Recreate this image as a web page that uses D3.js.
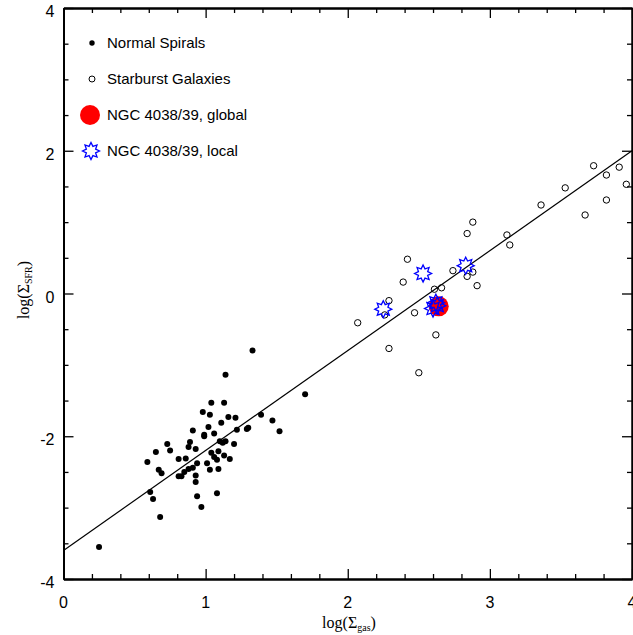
<!DOCTYPE html>
<html>
<head>
<meta charset="utf-8">
<script src="https://cdn.jsdelivr.net/npm/d3@7"></script>
<style>
body { margin: 0; background: #fff; }
svg { display: block; }
.tickLabel { font-family: "Liberation Sans", Arial, sans-serif; font-size: 16px; }
.legendText { font-family: "Liberation Sans", Arial, sans-serif; font-size: 15px; }
.axisTitle { font-family: "Liberation Serif", "Times New Roman", serif; font-size: 16px; }
</style>
</head>
<body>
<div id="chart"></div>
<script>
// data
var spiralX = [0.25, 1.33, 1.14, 1.70, 1.04, 1.13, 0.98, 1.03, 1.16, 1.21, 1.39, 1.47, 1.52, 1.11, 1.02,
  1.22, 1.29, 1.30, 0.91, 0.99, 0.99, 1.06, 0.89, 0.88, 0.93, 0.73, 0.75, 0.65, 0.59, 0.81,
  0.86, 0.94, 1.01, 0.91, 0.88, 0.85, 0.81, 0.83, 0.67, 0.69, 0.93, 0.93, 1.03, 1.09, 1.17,
  1.13, 1.08, 1.06, 1.04, 1.09, 1.20, 1.12, 1.10, 1.14, 0.61, 0.63, 0.94, 1.08, 0.68, 0.97];
var spiralY = [-3.55, -0.80, -1.14, -1.41, -1.53, -1.53, -1.66, -1.70, -1.73, -1.74, -1.70, -1.78, -1.93, -1.81, -1.87,
  -1.91, -1.90, -1.88, -1.92, -1.98, -2.00, -1.96, -2.08, -2.15, -2.18, -2.11, -2.20, -2.22, -2.36, -2.32,
  -2.31, -2.38, -2.38, -2.44, -2.46, -2.50, -2.56, -2.56, -2.47, -2.52, -2.55, -2.64, -2.47, -2.46, -2.32,
  -2.27, -2.33, -2.29, -2.23, -2.21, -2.11, -2.09, -2.07, -2.07, -2.78, -2.88, -2.84, -2.80, -3.13, -2.99];

var starburstX = [2.07, 2.29, 2.50, 2.29, 2.26, 2.39, 2.42, 2.47, 2.61, 2.66, 2.62, 2.74, 2.84, 2.88,
  2.91, 2.84, 2.88, 3.12, 3.14, 3.36, 3.53, 3.67, 3.73, 3.82, 3.82, 3.91, 3.96];
var starburstY = [-0.41, -0.77, -1.11, -0.10, -0.30, 0.16, 0.48, -0.27, 0.06, 0.08, -0.58, 0.32, 0.24, 0.30,
  0.11, 0.84, 1.00, 0.82, 0.68, 1.24, 1.48, 1.10, 1.79, 1.66, 1.31, 1.77, 1.53];

var globalX = [2.64];
var globalY = [-0.18];

var localX = [2.25, 2.53, 2.83, 2.62, 2.60, 2.63];
var localY = [-0.22, 0.28, 0.39, -0.13, -0.21, -0.17];

var fitX = [0, 4];
var fitY = [-3.6, 2.0];

var xMajor = [0, 1, 2, 3, 4];
var yMajor = [-4, -2, 0, 2, 4];

var legendLabels = ["Normal Spirals", "Starburst Galaxies", "NGC 4038/39, global", "NGC 4038/39, local"];

var width = 633, height = 635;
var padLeft = 63.5, padRight = 632, padTop = 8, padBottom = 579;

var svg = d3.select("#chart").append("svg")
  .attr("width", width)
  .attr("height", height);

var x = d3.scaleLinear().domain([0, 4]).range([padLeft, padRight]);
var y = d3.scaleLinear().domain([-4, 4]).range([padBottom, padTop]);

var xMinor = d3.range(0, 4.001, 0.2).filter(function(v) { return Math.abs(v - Math.round(v)) > 1e-6; });
var yMinor = d3.range(-4, 4.001, 0.5).filter(function(v) { return v % 2 !== 0; });

// star path, 8 points
function starPath(r1, r2) {
  var pts = [];
  for (var i = 0; i < 16; i++) {
    var a = Math.PI * i / 8 - Math.PI / 2;
    var r = i % 2 === 0 ? r1 : r2;
    pts.push([r * Math.cos(a), r * Math.sin(a)]);
  }
  return "M" + pts.join("L") + "Z";
}

// fit line
var line = d3.line().x(function(d) { return x(d[0]); }).y(function(d) { return y(d[1]); });
svg.append("path")
  .attr("d", line(d3.zip(fitX, fitY)))
  .attr("fill", "none")
  .attr("stroke", "#000")
  .attr("stroke-width", 1.2);

// normal spirals
svg.append("g").selectAll("circle")
  .data(d3.zip(spiralX, spiralY))
  .enter().append("circle")
  .attr("cx", function(d) { return x(d[0]); })
  .attr("cy", function(d) { return y(d[1]); })
  .attr("r", 3)
  .attr("fill", "#000");

// starbursts
svg.append("g").selectAll("circle")
  .data(d3.zip(starburstX, starburstY))
  .enter().append("circle")
  .attr("cx", function(d) { return x(d[0]); })
  .attr("cy", function(d) { return y(d[1]); })
  .attr("r", 3.2)
  .attr("fill", "none")
  .attr("stroke", "#000")
  .attr("stroke-width", 1);

// global
svg.append("g").selectAll("circle")
  .data(d3.zip(globalX, globalY))
  .enter().append("circle")
  .attr("cx", function(d) { return x(d[0]); })
  .attr("cy", function(d) { return y(d[1]); })
  .attr("r", 10)
  .attr("fill", "#ff0000");

// local
svg.append("g").selectAll("path")
  .data(d3.zip(localX, localY))
  .enter().append("path")
  .attr("transform", function(d) { return "translate(" + x(d[0]) + "," + y(d[1]) + ")"; })
  .attr("d", starPath(8.5, 5))
  .attr("fill", "none")
  .attr("stroke", "#0000ff")
  .attr("stroke-width", 1.3);

// axes: ticks point inward on all four sides
function tickAxis(axisFn, scale, values, size, transform) {
  var g = svg.append("g").attr("transform", transform)
    .call(axisFn(scale).tickValues(values).tickSize(size).tickSizeOuter(0).tickFormat(""));
  g.select(".domain").attr("stroke-width", 2);
  g.selectAll(".tick line").attr("stroke-width", 1.3);
  return g;
}
tickAxis(d3.axisTop, x, xMajor, 10, "translate(0," + padBottom + ")");
tickAxis(d3.axisTop, x, xMinor, 5, "translate(0," + padBottom + ")");
tickAxis(d3.axisBottom, x, xMajor, 10, "translate(0," + padTop + ")");
tickAxis(d3.axisBottom, x, xMinor, 5, "translate(0," + padTop + ")");
tickAxis(d3.axisRight, y, yMajor, 10, "translate(" + padLeft + ",0)");
tickAxis(d3.axisRight, y, yMinor, 5, "translate(" + padLeft + ",0)");
tickAxis(d3.axisLeft, y, yMajor, 10, "translate(" + padRight + ",0)");
tickAxis(d3.axisLeft, y, yMinor, 5, "translate(" + padRight + ",0)");

// tick labels
svg.append("g").selectAll("text")
  .data(xMajor)
  .enter().append("text")
  .attr("class", "tickLabel")
  .attr("x", function(d) { return x(d); })
  .attr("y", padBottom + 29)
  .attr("text-anchor", "middle")
  .text(function(d) { return d; });

svg.append("g").selectAll("text")
  .data(yMajor)
  .enter().append("text")
  .attr("class", "tickLabel")
  .attr("x", padLeft - 9)
  .attr("y", function(d) { return y(d) + 9; })
  .attr("text-anchor", "end")
  .text(function(d) { return d; });

// axis titles
var xt = svg.append("text")
  .attr("class", "axisTitle")
  .attr("x", 349)
  .attr("y", 628)
  .attr("text-anchor", "middle");
xt.append("tspan").text("log(\u03A3");
xt.append("tspan").attr("font-size", "10px").attr("dy", 3).text("gas");
xt.append("tspan").attr("dy", -3).text(")");

var yt = svg.append("text")
  .attr("class", "axisTitle")
  .attr("transform", "translate(29,290) rotate(-90)")
  .attr("text-anchor", "middle");
yt.append("tspan").text("log(\u03A3");
yt.append("tspan").attr("font-size", "10px").attr("dy", 3).text("SFR");
yt.append("tspan").attr("dy", -3).text(")");

// legend
var legendY = [43, 79, 115, 151];
var leg = svg.append("g");
leg.append("circle").attr("cx", 92).attr("cy", legendY[0]).attr("r", 2.7).attr("fill", "#000");
leg.append("circle").attr("cx", 92).attr("cy", legendY[1]).attr("r", 3).attr("fill", "none").attr("stroke", "#000");
leg.append("circle").attr("cx", 90).attr("cy", legendY[2]).attr("r", 10).attr("fill", "#ff0000");
leg.append("path").attr("transform", "translate(91," + legendY[3] + ")")
  .attr("d", starPath(8.5, 5)).attr("fill", "none").attr("stroke", "#0000ff").attr("stroke-width", 1.3);
leg.selectAll("text")
  .data(legendLabels)
  .enter().append("text")
  .attr("class", "legendText")
  .attr("x", 107)
  .attr("y", function(d, i) { return legendY[i] + 5; })
  .text(function(d) { return d; });
</script>
</body>
</html>
